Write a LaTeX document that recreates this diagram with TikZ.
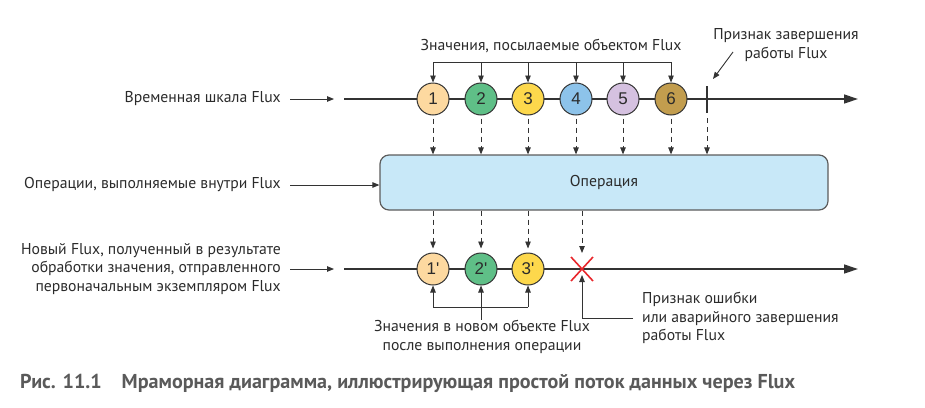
\documentclass[tikz,border=0pt]{standalone}
\usepackage{fontspec}
\setmainfont{PT Sans}
\newfontfamily\balfont{Liberation Sans}
\usetikzlibrary{arrows.meta,calc}
\definecolor{lc}{HTML}{333333}
\definecolor{tc}{HTML}{2B2B2B}
\definecolor{b1}{HTML}{FDD9A0}
\definecolor{b2}{HTML}{5FBF87}
\definecolor{b3}{HTML}{FDD84C}
\definecolor{b4}{HTML}{8DC3EA}
\definecolor{b5}{HTML}{D5C1E0}
\definecolor{b6}{HTML}{C29D4E}
\definecolor{opfill}{HTML}{C8E8F8}
\definecolor{errc}{HTML}{E8262B}
\definecolor{capc}{HTML}{5A5A5A}
\begin{document}
\begin{tikzpicture}[x=1pt,y=-1pt,
  txt/.style={font=\fontsize{15.7}{18.8}\selectfont, text=tc, inner sep=0pt},
  lbl/.style={txt, align=right, anchor=east},
  mainline/.style={draw=lc, line width=1.3pt, -{Triangle[length=14pt,width=9pt]}},
  arr/.style={draw=lc, line width=0.9pt, -{Triangle[length=7pt,width=5.5pt]}},
  plain/.style={draw=lc, line width=0.9pt},
  dsh/.style={arr, dash pattern=on 5pt off 4pt},
  ball/.style={circle, draw=lc, line width=1pt, minimum size=32pt, inner sep=0pt, text=tc, font=\balfont\fontsize{17}{17}\selectfont},
  opbox/.style={draw=lc!80, line width=1.2pt, fill=opfill, rounded corners=9pt, minimum width=448pt, minimum height=55pt, txt}
]
\useasboundingbox (0,0) rectangle (925,407);

% ---------- top timeline
\coordinate (t0) at (344,99);
\coordinate (t1) at (858,99);
\draw[mainline] (t0) -- (t1);
\node[lbl] (lab1) at (281,99) {Временная шкала Flux};
\coordinate (a1s) at (290,99);
\coordinate (a1e) at (334,99);
\draw[arr] (a1s) -- (a1e);

\node[ball, fill=b1] (c1) at (433,99) {1};
\node[ball, fill=b2] (c2) at (481,99) {2};
\node[ball, fill=b3] (c3) at (528,99) {3};
\node[ball, fill=b4] (c4) at (576,99) {4};
\node[ball, fill=b5] (c5) at (623,99) {5};
\node[ball, fill=b6] (c6) at (671,99) {6};

\coordinate (termT) at (707,86);
\coordinate (termB) at (707,113);
\draw[draw=lc, line width=2.2pt] (termT) -- (termB);

% bracket above
\node[txt] (vals) at (551,46) {Значения, посылаемые объектом Flux};
\draw[plain] (c1 |- 0,62) -- (c6 |- 0,62);
\foreach \c in {c1,c2,c3,c4,c5,c6}{
  \draw[arr] (\c |- 0,62) -- (\c.north);
}

% completion label
\node[txt, align=center] (endlbl) at (786,45) {Признак завершения\\работы Flux};
\coordinate (ea) at (733,52);
\coordinate (eb) at (713,79);
\draw[arr] (ea) -- (eb);

% ---------- operation box
\node[opbox] (op) at (604,182.5) {Операция};
\node[lbl] (lab2) at (281,185) {Операции, выполняемые внутри Flux};
\coordinate (a2s) at (290,185);
\draw[arr] (a2s) -- (a2s -| op.west);

\foreach \c in {c1,c2,c3,c4,c5,c6}{
  \draw[dsh] (\c.south) ++(0,3) -- (\c |- op.north);
}
\draw[dsh] (termB) ++(0,5) -- (termB |- op.north);

% ---------- bottom timeline
\coordinate (u0) at (344,269);
\coordinate (u1) at (858,269);
\draw[mainline] (u0) -- (u1);
\node[lbl] (lab3) at (281,269) {Новый Flux, полученный в результате\\обработки значения, отправленного\\первоначальным экземпляром Flux};
\coordinate (a3s) at (290,269);
\coordinate (a3e) at (334,269);
\draw[arr] (a3s) -- (a3e);

\node[ball, fill=b1] (d1) at (433,269) {1\char"0027};
\node[ball, fill=b2] (d2) at (481,269) {2\char"0027};
\node[ball, fill=b3] (d3) at (528,269) {3\char"0027};
\coordinate (xc) at (582,269);
\draw[draw=errc, line width=1.6pt] ($(xc)+(-11,-12)$) -- ($(xc)+(11,12)$);
\draw[draw=errc, line width=1.6pt] ($(xc)+(-11,12)$) -- ($(xc)+(11,-12)$);

\foreach \c in {d1,d2,d3}{
  \draw[dsh] (\c |- op.south) -- ($(\c.north)+(0,-4)$);
}
\draw[dsh] (xc |- op.south) -- ($(xc)+(0,-16)$);

% bracket below
\node[txt, align=center] (newvals) at (482,337) {Значения в новом объекте Flux\\после выполнения операции};
\draw[plain] (d1 |- 0,307) -- (d3 |- 0,307);
\foreach \c in {d1,d2,d3}{
  \draw[arr] (\c |- 0,307) -- (\c.south);
}
\draw[plain] (d2 |- 0,307) -- (d2 |- newvals.north);

% error label
\node[txt, align=left, anchor=west] (errlbl) at (642,318) {Признак ошибки\\или аварийного завершения\\работы Flux};
\coordinate (ec) at (633,318);
\draw[arr] (ec) -- (xc |- ec) -- ($(xc)+(0,6)$);

% caption
\node[anchor=west, inner sep=0pt, text=capc, font=\fontsize{20.1}{22}\selectfont\bfseries] (cap) at (20,383) {Рис. 11.1\hspace{20pt}Мраморная диаграмма, иллюстрирующая простой поток данных через Flux};
\end{tikzpicture}
\end{document}
